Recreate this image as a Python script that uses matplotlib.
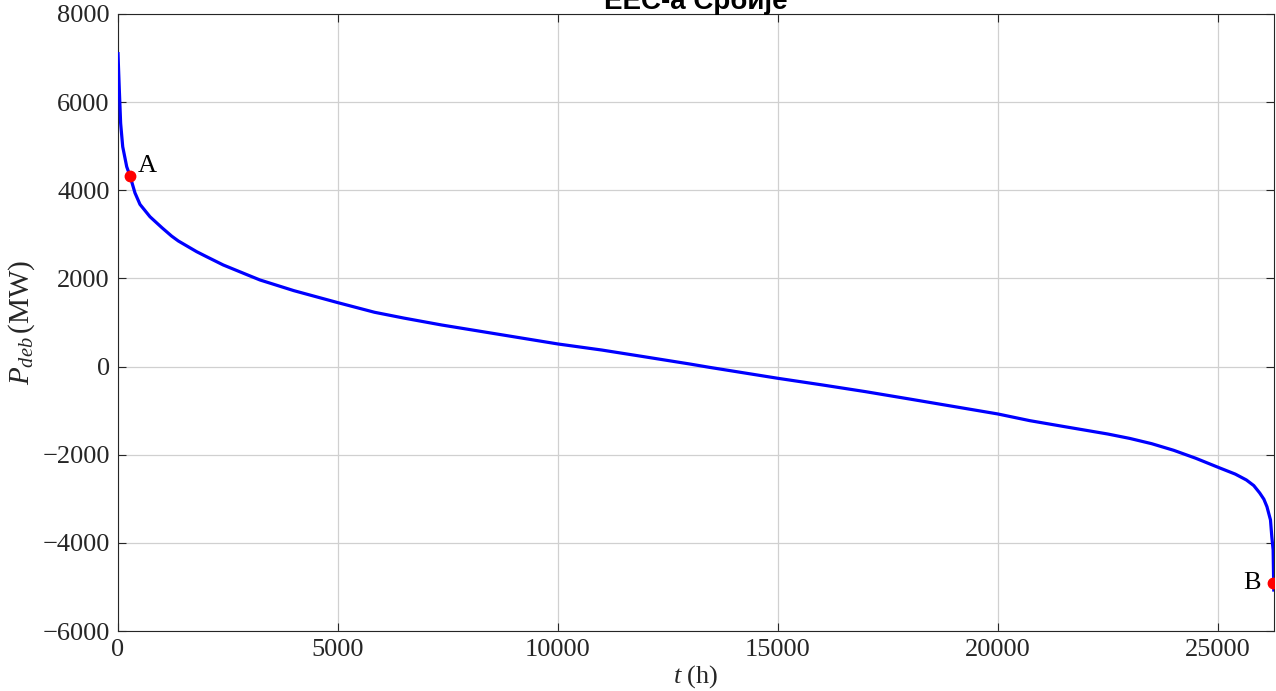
import matplotlib
matplotlib.use("Agg")
import matplotlib.pyplot as plt

plt.rcParams["font.family"] = ["Liberation Serif", "DejaVu Serif"]
plt.rcParams["mathtext.fontset"] = "custom"
plt.rcParams["mathtext.rm"] = "Liberation Serif"
plt.rcParams["mathtext.it"] = "Liberation Serif:italic"

# Duration curve of the power deficit (hours sorted by descending value)
hours = [0, 30, 60, 107, 198, 273, 386, 500, 727, 1000, 1220, 1371, 1788,
         2000, 2393, 3000, 3227, 4000, 5000, 5832, 6500, 7355, 8000,
         9000, 10000, 11000, 11920, 13000, 13443, 14000, 15000, 16000,
         16993, 18000, 19000, 20000, 20727, 21500, 22500, 23000, 23500,
         24000, 24500, 25045, 25400, 25652, 25820, 25955, 26050, 26120,
         26200, 26230, 26260, 26275]
p_deb = [7100, 6280, 5520, 4990, 4535, 4325, 3940, 3680, 3400, 3150, 2960,
         2850, 2607, 2500, 2305, 2057, 1965, 1722, 1450, 1232, 1100,
         944, 839, 676, 513, 375, 230, 58, -17, -106, -266, -415, -569,
         -737, -906, -1075, -1227, -1360, -1530, -1630, -1750, -1900,
         -2080, -2300, -2440, -2573, -2700, -2868, -3010, -3180, -3480,
         -3860, -4160, -5070]

point_names = ["A", "B"]
point_t = [273, 26257]
point_p = [4325, -4900]

x_ticks = [0, 5000, 10000, 15000, 20000, 25000]
y_ticks = [-6000, -4000, -2000, 0, 2000, 4000, 6000, 8000]

fig = plt.figure(figsize=(12.76, 6.91), dpi=100)
ax = fig.add_axes([118 / 1276, 1 - 631 / 691, (1274 - 118) / 1276, (631 - 14) / 691])

ax.plot(hours, p_deb, color="#0000ff", lw=2.3, zorder=3, solid_joinstyle="round")
ax.plot(point_t, point_p, "o", color="#ff0000", ms=7.5, mec="#ff0000", zorder=4)
ax.text(point_t[0] + 180, point_p[0] - 20, point_names[0], fontsize=19,
        ha="left", va="bottom")
ax.text(point_t[1] - 290, point_p[1] - 20, point_names[1], fontsize=19,
        ha="right", va="center")

ax.set_xlim(0, 26280)
ax.set_ylim(-6000, 8000)
ax.set_xticks(x_ticks)
ax.set_yticks(y_ticks)
ax.set_yticklabels([("\u2212" + str(-v)) if v < 0 else str(v) for v in y_ticks])
ax.grid(True, color="#d0d0d0", lw=0.9)
ax.set_axisbelow(True)
for s in ax.spines.values():
    s.set_color("#262626")
    s.set_linewidth(0.8)
ax.tick_params(direction="in", length=6, width=0.8, color="#262626",
               labelsize=19, labelcolor="#262626", top=True, right=True, pad=6)

ax.set_xlabel("$t$ (h)", fontsize=19, color="#262626", labelpad=1)
ax.set_ylabel("$P_{deb}\\,$(MW)", fontsize=21, color="#262626", labelpad=4)

fig.text((118 + 1274) / 2 / 1276, 1 - 9 / 691, "ЕЕС-а Србије",
         family=["Liberation Sans", "DejaVu Sans"], weight="bold", fontsize=20,
         ha="center", va="baseline", color="black")

fig.savefig("out.png", dpi=100)
